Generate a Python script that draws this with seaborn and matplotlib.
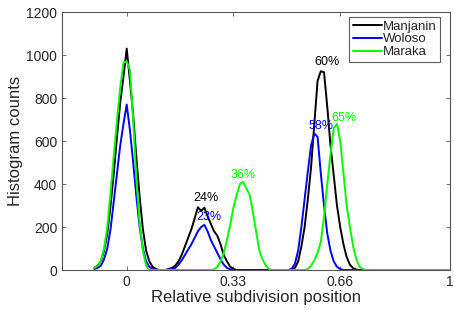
import numpy as np
import pandas as pd
import seaborn as sns
import matplotlib.pyplot as plt

# === Datos ===
# posiciones de los bins: -0.10 ... 1.00 en pasos de 0.01
posiciones = np.round(np.arange(-0.10, 1.0001, 0.01), 2)

manjanin = [
    10, 20, 40, 90, 170, 300, 450, 620, 780, 900,          # -0.10
    1030, 880, 720, 520, 340, 190, 90, 40, 15, 5,          # 0.00
    0, 0, 0, 5, 10, 20, 40, 70, 110, 150,                  # 0.10
    190, 240, 292, 275, 290, 250, 215, 180, 160, 120,      # 0.20
    70, 40, 15, 5, 0, 0, 0, 0, 0, 0,                       # 0.30
    0, 0, 0, 0, 0, 0, 0, 0, 0, 0,                          # 0.40
    0, 3, 10, 40, 110, 200, 330, 480, 680, 880,            # 0.50
    925, 920, 760, 580, 440, 300, 200, 120, 60, 25,        # 0.60
    8, 2, 0, 0, 0, 0, 0, 0, 0, 0,                          # 0.70
    0, 0, 0, 0, 0, 0, 0, 0, 0, 0,                          # 0.80
    0, 0, 0, 0, 0, 0, 0, 0, 0, 0,                          # 0.90
    0,                                                     # 1.00
]

woloso = [
    5, 10, 20, 50, 100, 190, 320, 450, 580, 680,
    770, 650, 500, 340, 200, 100, 40, 15, 5, 0,
    0, 0, 0, 0, 5, 10, 25, 45, 70, 95,
    120, 150, 180, 200, 210, 180, 140, 110, 80, 50,
    25, 10, 3, 0, 0, 0, 0, 0, 0, 0,
    0, 0, 0, 0, 0, 0, 0, 0, 0, 0,
    0, 5, 30, 90, 200, 330, 460, 580, 635, 620,
    450, 300, 170, 90, 40, 15, 5, 0, 0, 0,
    0, 0, 0, 0, 0, 0, 0, 0, 0, 0,
    0, 0, 0, 0, 0, 0, 0, 0, 0, 0,
    0, 0, 0, 0, 0, 0, 0, 0, 0, 0,
    0,
]

maraka = [
    10, 20, 40, 100, 200, 360, 530, 700, 850, 965,
    970, 930, 700, 420, 220, 90, 20, 0, 0, 0,
    0, 0, 0, 0, 0, 0, 0, 0, 0, 0,
    0, 0, 0, 0, 0, 0, 0, 3, 15, 40,
    80, 140, 210, 290, 350, 400, 410, 380, 350, 270,
    180, 90, 50, 20, 5, 0, 0, 0, 0, 0,
    0, 0, 0, 0, 0, 0, 5, 20, 45, 80,
    130, 250, 400, 540, 660, 680, 600, 450, 300, 200,
    110, 50, 15, 5, 0, 0, 0, 0, 0, 0,
    0, 0, 0, 0, 0, 0, 0, 0, 0, 0,
    0, 0, 0, 0, 0, 0, 0, 0, 0, 0,
    0,
]

grupos = ["Manjanin", "Woloso", "Maraka"]
colores = {"Manjanin": "#000000", "Woloso": "#0000ff", "Maraka": "#00ff00"}

# porcentajes: (texto, grupo, x, y)
etiquetas = [
    ("24%", "Manjanin", 0.246, 335),
    ("23%", "Woloso", 0.255, 247),
    ("36%", "Maraka", 0.361, 442),
    ("60%", "Manjanin", 0.620, 967),
    ("58%", "Woloso", 0.601, 670),
    ("65%", "Maraka", 0.673, 707),
]

x_ticks = [0, 0.33, 0.66, 1]
x_ticklabels = ["0", "0.33", "0.66", "1"]
y_ticks = [0, 200, 400, 600, 800, 1000, 1200]

# === Tabla larga ===
df = pd.concat([
    pd.DataFrame({"pos": posiciones, "counts": vals, "grupo": g})
    for g, vals in zip(grupos, [manjanin, woloso, maraka])
])

sns.set_theme(style="ticks")
plt.rcParams["font.family"] = ["Liberation Sans", "DejaVu Sans"]

fig = plt.figure(figsize=(4.54, 3.10), dpi=100)
ax = fig.add_axes([0.1366, 0.129, 0.855, 0.832])

sns.lineplot(data=df, x="pos", y="counts", hue="grupo", hue_order=grupos,
             palette=colores, linewidth=1.4, ax=ax, sort=False)

for txt, g, x, y in etiquetas:
    ax.text(x, y, txt, color=colores[g], fontsize=9, ha="center", va="center")

ax.set_xlim(-0.2, 1.0)
ax.set_ylim(0, 1200)
ax.set_xticks(x_ticks)
ax.set_xticklabels(x_ticklabels)
ax.set_yticks(y_ticks)
ax.tick_params(direction="in", top=True, right=True, labelsize=10,
               length=3, width=0.6, color="#555555")
for s in ax.spines.values():
    s.set_color("#555555")
    s.set_linewidth(0.8)
ax.set_xlabel("Relative subdivision position", fontsize=12, labelpad=1)
ax.set_ylabel("Histogram counts", fontsize=12, labelpad=2)

leg = ax.legend(loc="upper right", bbox_to_anchor=(0.974, 0.981), fontsize=9.5,
                frameon=True, fancybox=False, edgecolor="#333333",
                handlelength=2.2, handletextpad=0.1, borderpad=0.25,
                labelspacing=0.05, borderaxespad=0)
leg.get_frame().set_linewidth(0.8)

plt.savefig("out.png", dpi=100)
